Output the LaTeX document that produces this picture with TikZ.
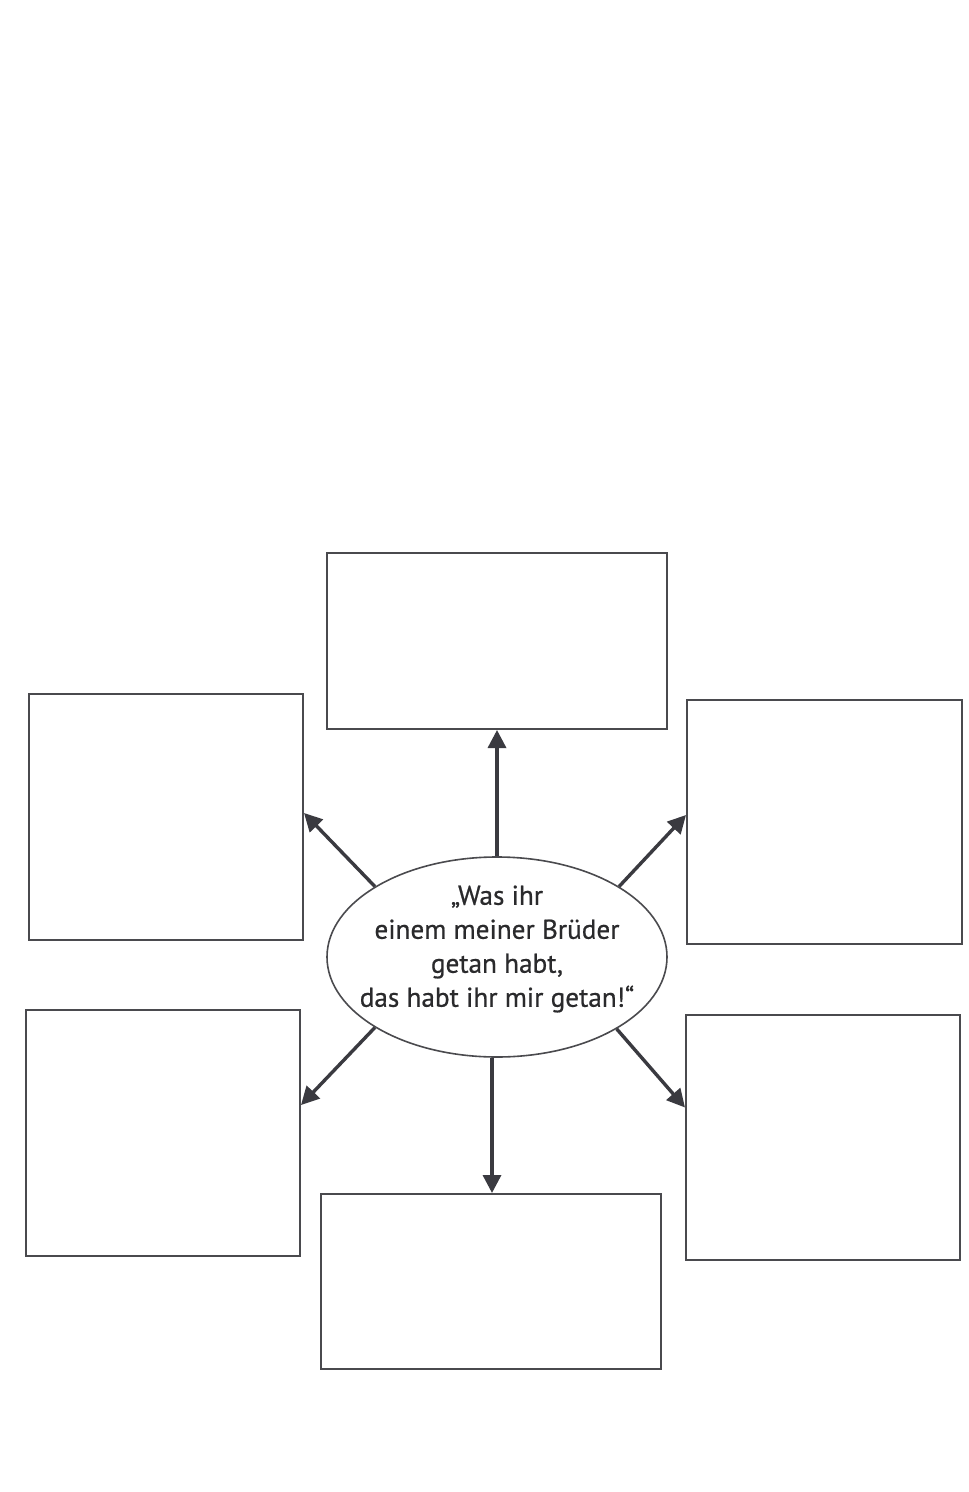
\documentclass[tikz,border=0pt]{standalone}
\usepackage{fontspec}
\setmainfont[FakeBold=0.6]{PT Sans}
\usetikzlibrary{arrows.meta,calc,shapes.geometric}
\definecolor{boxline}{HTML}{4A4A4E}
\definecolor{arrowline}{HTML}{3A3A40}
\definecolor{txt}{HTML}{2A2A2C}
\tikzset{
  fieldbox/.style={draw=boxline,line width=1pt,rectangle,inner sep=0pt},
  bigarrow/.style={draw=arrowline,line width=1.7pt,-{Triangle[length=9pt,width=9pt]}},
}
\begin{document}
\begin{tikzpicture}[x=0.5pt,y=-0.5pt]
\useasboundingbox (0,0) rectangle (968,1492);
\fill[white] (0,0) rectangle (968,1492);
% boxes
\node[fieldbox,minimum width=170pt,minimum height=88pt] (top) at (497,641) {};
\node[fieldbox,minimum width=137pt,minimum height=123pt] (lu) at (166,817) {};
\node[fieldbox,minimum width=137.5pt,minimum height=122pt] (ru) at (824.5,822) {};
\node[fieldbox,minimum width=137pt,minimum height=123pt] (ll) at (163,1133) {};
\node[fieldbox,minimum width=137pt,minimum height=122.5pt] (rl) at (823,1137.5) {};
\node[fieldbox,minimum width=170pt,minimum height=87.5pt] (bot) at (491,1281.5) {};
% central ellipse
\node[draw=boxline,line width=0.8pt,ellipse,minimum width=170pt,minimum height=100pt,inner sep=0pt] (ell) at (497,957) {};
\node[align=center,text=txt,inner sep=0pt,font=\fontsize{13.6}{17}\selectfont] (elltext) at (497,949)
  {„Was ihr\\einem meiner Brüder\\getan habt,\\das habt ihr mir getan!“};
% arrows
\coordinate (luT) at ($(lu.east)+(0,-4)$);
\coordinate (ruT) at ($(ru.west)+(0,-7)$);
\coordinate (llT) at ($(ll.east)+(0,-28)$);
\coordinate (rlT) at ($(rl.west)+(0,-30)$);
\coordinate (botT) at ($(bot.north)+(1,0)$);
\draw[bigarrow] (ell.north) -- (top.south);
\draw[bigarrow] (ell.150) -- (luT);
\draw[bigarrow] (ell.30) -- (ruT);
\draw[bigarrow] (ell.210) -- (llT);
\draw[bigarrow] (ell.329) -- (rlT);
\draw[bigarrow] ($(ell.south)+(-5,0)$) -- (botT);
\end{tikzpicture}
\end{document}
